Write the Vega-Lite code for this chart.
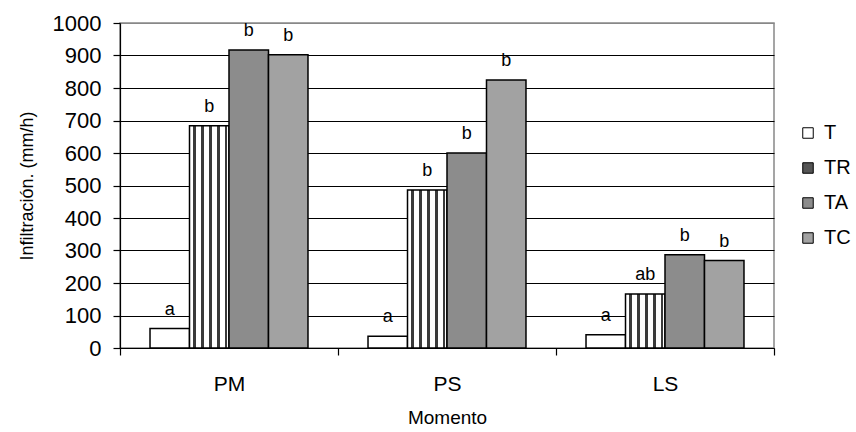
{
  "$schema": "https://vega.github.io/schema/vega-lite/v6.json",
  "autosize": {"type": "none"},
  "padding": {"left": 120, "top": 23, "right": 82, "bottom": 84},
  "width": 654,
  "height": 325,
  "background": "white",
  "config": {
    "font": "Liberation Sans",
    "view": {"stroke": "#888", "strokeWidth": 1.5},
    "axis": {
      "labelFont": "Liberation Sans",
      "titleFont": "Liberation Sans",
      "labelColor": "black",
      "titleColor": "black",
      "titleFontWeight": "normal",
      "domainColor": "black",
      "tickColor": "black",
      "domainWidth": 1.2,
      "tickWidth": 1.2
    },
    "legend": {
      "labelFont": "Liberation Sans",
      "labelColor": "black"
    }
  },
  "data": {
    "values": [
      {"momento": "PM", "trat": "T", "valor": 60, "letra": "a"},
      {"momento": "PM", "trat": "TR", "valor": 684, "letra": "b"},
      {"momento": "PM", "trat": "TA", "valor": 917, "letra": "b"},
      {"momento": "PM", "trat": "TC", "valor": 902, "letra": "b"},
      {"momento": "PS", "trat": "T", "valor": 36, "letra": "a"},
      {"momento": "PS", "trat": "TR", "valor": 486, "letra": "b"},
      {"momento": "PS", "trat": "TA", "valor": 600, "letra": "b"},
      {"momento": "PS", "trat": "TC", "valor": 825, "letra": "b"},
      {"momento": "LS", "trat": "T", "valor": 41, "letra": "a"},
      {"momento": "LS", "trat": "TR", "valor": 166, "letra": "ab"},
      {"momento": "LS", "trat": "TA", "valor": 287, "letra": "b"},
      {"momento": "LS", "trat": "TC", "valor": 269, "letra": "b"}
    ]
  },
  "encoding": {
    "x": {
      "field": "momento",
      "type": "nominal",
      "sort": ["PM", "PS", "LS"],
      "scale": {"paddingInner": 0, "paddingOuter": 0},
      "axis": {
        "title": "Momento",
        "labelAngle": 0,
        "labelFontSize": 21,
        "titleFontSize": 19,
        "tickBand": "extent",
        "tickSize": 7,
        "labelPadding": 18,
        "titlePadding": 14
      }
    },
    "xOffset": {
      "field": "trat",
      "type": "nominal",
      "sort": ["T", "TR", "TA", "TC"],
      "scale": {"paddingInner": 0, "paddingOuter": 0.76}
    },
    "y": {
      "field": "valor",
      "type": "quantitative",
      "scale": {"domain": [0, 1000], "nice": false},
      "axis": {
        "title": "Infiltración. (mm/h)",
        "values": [0, 100, 200, 300, 400, 500, 600, 700, 800, 900, 1000],
        "format": "d",
        "labelFontSize": 22,
        "titleFontSize": 18,
        "tickSize": 7,
        "labelPadding": 12,
        "titlePadding": 16,
        "grid": true,
        "gridColor": {"condition": {"test": "datum.value === 1000", "value": "#888"}, "value": "black"},
        "gridWidth": 1.2
      }
    }
  },
  "layer": [
    {
      "mark": {"type": "bar", "stroke": "black", "strokeWidth": 1.5},
      "encoding": {
        "fill": {
          "condition": {
            "test": "datum.trat === 'TR'",
            "value": {
              "gradient": "linear",
              "x1": 0, "y1": 0, "x2": 1, "y2": 0,
              "stops": [
                {"offset": 0, "color": "white"},
                {"offset": 0.1, "color": "white"},
                {"offset": 0.1, "color": "#3a3a3a"},
                {"offset": 0.16, "color": "#3a3a3a"},
                {"offset": 0.16, "color": "white"},
                {"offset": 0.3, "color": "white"},
                {"offset": 0.3, "color": "#3a3a3a"},
                {"offset": 0.36, "color": "#3a3a3a"},
                {"offset": 0.36, "color": "white"},
                {"offset": 0.5, "color": "white"},
                {"offset": 0.5, "color": "#3a3a3a"},
                {"offset": 0.56, "color": "#3a3a3a"},
                {"offset": 0.56, "color": "white"},
                {"offset": 0.7, "color": "white"},
                {"offset": 0.7, "color": "#3a3a3a"},
                {"offset": 0.76, "color": "#3a3a3a"},
                {"offset": 0.76, "color": "white"},
                {"offset": 0.9, "color": "white"},
                {"offset": 0.9, "color": "#3a3a3a"},
                {"offset": 0.96, "color": "#3a3a3a"},
                {"offset": 0.96, "color": "white"},
                {"offset": 1, "color": "white"}
              ]
            }
          },
          "field": "trat",
          "type": "nominal",
          "scale": {
            "domain": ["T", "TR", "TA", "TC"],
            "range": ["white", "#555555", "#8c8c8c", "#a2a2a2"]
          },
          "legend": {
            "title": null,
            "orient": "none",
            "legendX": 678,
            "legendY": 100,
            "symbolType": "square",
            "symbolSize": 110,
            "symbolStrokeColor": "black",
            "symbolStrokeWidth": 1,
            "labelFontSize": 20,
            "rowPadding": 15,
            "labelOffset": 6,
            "encode": {
              "symbols": {
                "update": {
                  "stroke": {"value": "black"},
                  "strokeWidth": {"value": 1},
                  "fill": {"signal": "datum.value === 'TR' ? {gradient: 'linear', x1: 0, y1: 0, x2: 1, y2: 0, stops: [{offset: 0, color: 'white'}, {offset: 0.2, color: 'white'}, {offset: 0.2, color: '#222'}, {offset: 0.4, color: '#222'}, {offset: 0.4, color: 'white'}, {offset: 0.6, color: 'white'}, {offset: 0.6, color: '#222'}, {offset: 0.8, color: '#222'}, {offset: 0.8, color: 'white'}, {offset: 1, color: 'white'}]} : datum.value === 'TA' ? {gradient: 'linear', x1: 0, y1: 0, x2: 1, y2: 1, stops: [{offset: 0, color: 'white'}, {offset: 0.2, color: 'white'}, {offset: 0.2, color: '#333'}, {offset: 0.3, color: '#333'}, {offset: 0.3, color: 'white'}, {offset: 0.45, color: 'white'}, {offset: 0.45, color: '#333'}, {offset: 0.55, color: '#333'}, {offset: 0.55, color: 'white'}, {offset: 0.7, color: 'white'}, {offset: 0.7, color: '#333'}, {offset: 0.8, color: '#333'}, {offset: 0.8, color: 'white'}, {offset: 1, color: 'white'}]} : datum.value === 'TC' ? {gradient: 'linear', x1: 1, y1: 0, x2: 0, y2: 1, stops: [{offset: 0, color: 'white'}, {offset: 0.2, color: 'white'}, {offset: 0.2, color: '#333'}, {offset: 0.3, color: '#333'}, {offset: 0.3, color: 'white'}, {offset: 0.45, color: 'white'}, {offset: 0.45, color: '#333'}, {offset: 0.55, color: '#333'}, {offset: 0.55, color: 'white'}, {offset: 0.7, color: 'white'}, {offset: 0.7, color: '#333'}, {offset: 0.8, color: '#333'}, {offset: 0.8, color: 'white'}, {offset: 1, color: 'white'}]} : 'white'"}
                }
              }
            }
          }
        }
      }
    },
    {
      "mark": {"type": "text", "dy": -14, "baseline": "alphabetic", "fontSize": 18, "font": "Liberation Sans", "color": "black"},
      "encoding": {
        "text": {"field": "letra", "type": "nominal"}
      }
    }
  ]
}
